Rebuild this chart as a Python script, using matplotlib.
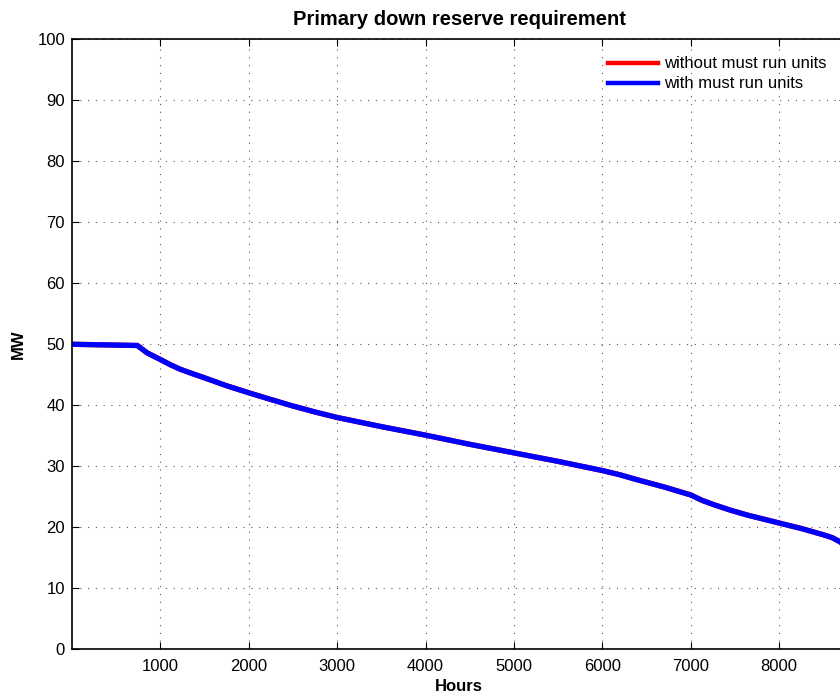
import numpy as np
import matplotlib
matplotlib.use("Agg")
import matplotlib.pyplot as plt

plt.rcParams['font.family'] = ['Liberation Sans', 'DejaVu Sans']

# Sorted hourly primary down-reserve requirement (MW)
hours = [1, 740, 850, 1000, 1120, 1226, 1360, 1500, 1750, 2000, 2250, 2470, 2750,
         3000, 3500, 4000, 4500, 5000, 5500, 6000, 6200, 6392, 6700, 7000,
         7130, 7262, 7450, 7640, 8000, 8250, 8505, 8600, 8692, 8760]
without_must_run = [50.0, 49.8, 48.6, 47.5, 46.6, 45.9, 45.2, 44.5, 43.2, 42.05, 40.95, 40.0, 38.9,
                    38.0, 36.5, 35.1, 33.6, 32.2, 30.8, 29.3, 28.6, 27.8, 26.6, 25.3,
                    24.4, 23.7, 22.8, 22.0, 20.7, 19.8, 18.75, 18.3, 17.6, 16.7]
with_must_run = [50.0, 49.8, 48.6, 47.5, 46.6, 45.9, 45.2, 44.5, 43.2, 42.05, 40.95, 40.0, 38.9,
                 38.0, 36.5, 35.1, 33.6, 32.2, 30.8, 29.3, 28.6, 27.8, 26.6, 25.3,
                 24.4, 23.7, 22.8, 22.0, 20.7, 19.8, 18.75, 18.3, 17.6, 16.7]

x_ticks = [1000, 2000, 3000, 4000, 5000, 6000, 7000, 8000]
y_ticks = [0, 10, 20, 30, 40, 50, 60, 70, 80, 90, 100]

fig = plt.figure(figsize=(8.4, 6.95), dpi=100)
ax = fig.add_axes([0.0857, 0.0658, 0.9218, 0.8777])

ax.plot(hours, without_must_run, color='#ff0000', lw=3.8,
        label='without must run units', solid_joinstyle='round')
ax.plot(hours, with_must_run, color='#0000ff', lw=3.8,
        label='with must run units', solid_joinstyle='round')

ax.set_xlim(1, 8760)
ax.set_ylim(0, 100)
ax.set_xticks(x_ticks)
ax.set_yticks(y_ticks)
ax.tick_params(direction='in', length=5, width=0.8, labelsize=12,
               top=True, right=True, colors='black')
ax.tick_params(axis='x', pad=7)
ax.tick_params(axis='y', pad=5)
for s in ax.spines.values():
    s.set_linewidth(1.2)
ax.grid(True, color='#555555', linestyle=(0, (1, 6)), linewidth=0.8)

ax.set_title('Primary down reserve requirement', fontsize=14.5, fontweight='bold', pad=10)
ax.set_xlabel('Hours', fontsize=12, fontweight='bold', labelpad=3.5)
ax.set_ylabel('MW', fontsize=12, fontweight='bold', labelpad=8)

leg = ax.legend(loc='upper left', bbox_to_anchor=(600 / 840, 1 - 48 / 695),
                bbox_transform=fig.transFigure, frameon=False, fontsize=12,
                handlelength=3.0, handletextpad=0.35, borderpad=0, labelspacing=0.3)
for h in leg.get_lines():
    h.set_linewidth(3.2)

fig.savefig('out.png', dpi=100)
